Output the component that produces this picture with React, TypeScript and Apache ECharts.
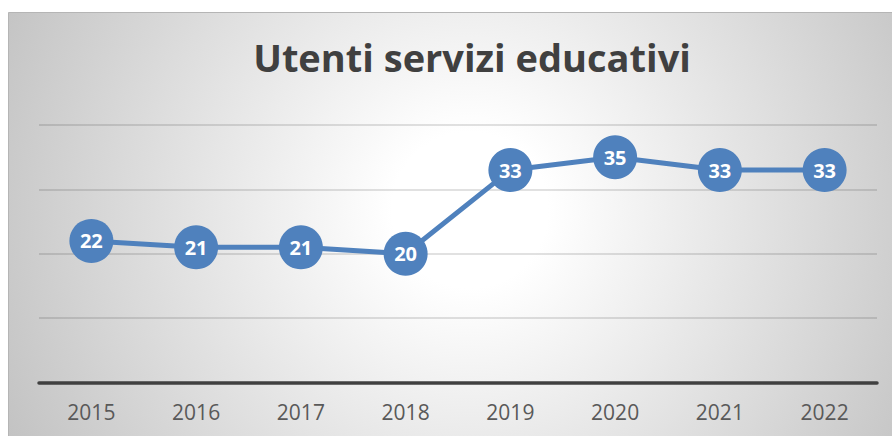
import React, { useEffect, useRef } from "react";
import * as echarts from "echarts";

const titleText = "Utenti servizi educativi";
const years = ["2015", "2016", "2017", "2018", "2019", "2020", "2021", "2022"];
const users = [22, 21, 21, 20, 33, 35, 33, 33];
const yMin = 0;
const yMax = 40;
const yStep = 10;

const W = 884;
const H = 424;

export default function App() {
  const ref = useRef<HTMLDivElement>(null);

  useEffect(() => {
    if (!ref.current) return;
    const chart = echarts.init(ref.current, undefined, { renderer: "svg" });
    const blue = "#4f81bd";
    chart.setOption({
      animation: false,
      graphic: [
        {
          type: "rect",
          z: -10,
          silent: true,
          shape: { x: 0.5, y: 0.5, width: W, height: H },
          style: {
            fill: new echarts.graphic.RadialGradient(
              462,
              198,
              520,
              [
                { offset: 0, color: "#ffffff" },
                { offset: 0.15, color: "#ffffff" },
                { offset: 1, color: "#c2c2c2" },
              ],
              true
            ),
            stroke: "#b5b5b5",
            lineWidth: 1,
          },
        },
        {
          type: "text",
          silent: true,
          x: 464,
          y: 45,
          style: {
            text: titleText,
            fill: "#404040",
            font: "bold 38px 'Open Sans'",
            textAlign: "center",
            textVerticalAlign: "middle",
          },
        },
      ],
      grid: { left: 31, right: 15, top: 113, bottom: 53.4, containLabel: false },
      xAxis: {
        type: "category",
        data: years,
        boundaryGap: true,
        axisLine: { show: true, lineStyle: { color: "#404040", width: 3.5 } },
        axisTick: { show: false },
        axisLabel: {
          color: "#595959",
          fontSize: 21,
          fontFamily: "Open Sans",
          margin: 19,
        },
        splitLine: { show: false },
        z: 5,
      },
      yAxis: {
        type: "value",
        min: yMin,
        max: yMax,
        interval: yStep,
        axisLine: { show: false },
        axisTick: { show: false },
        axisLabel: { show: false },
        splitLine: { lineStyle: { color: "rgba(0,0,0,0.16)", width: 1.5 } },
      },
      series: [
        {
          type: "line",
          data: users,
          symbol: "circle",
          symbolSize: 44,
          lineStyle: { color: blue, width: 5 },
          itemStyle: { color: blue },
          label: {
            show: true,
            position: "inside",
            color: "#ffffff",
            fontWeight: "bold",
            fontSize: 20,
            fontFamily: "Open Sans",
          },
          z: 10,
        },
      ],
    });
    return () => chart.dispose();
  }, []);

  return (
    <div
      ref={ref}
      style={{ position: "absolute", left: 8, top: 12, width: W, height: H }}
    />
  );
}
